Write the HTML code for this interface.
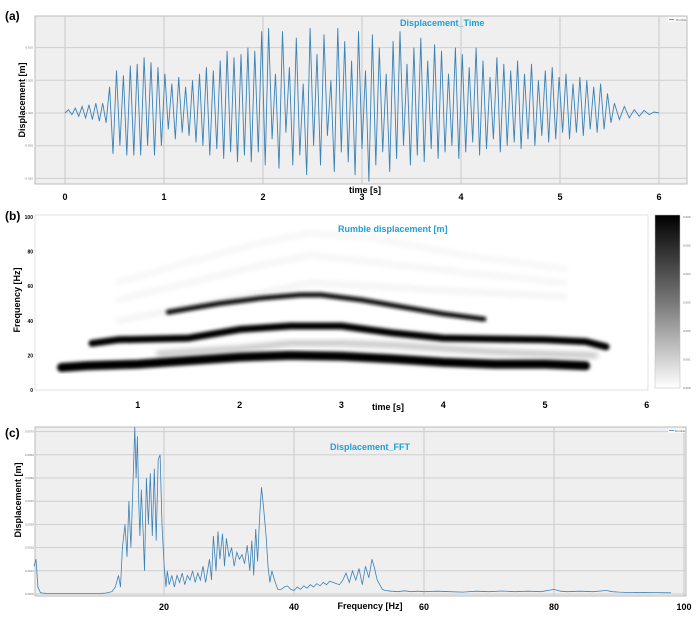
<!DOCTYPE html>
<html><head><meta charset="utf-8">
<style>
body{margin:0;background:#fff;width:700px;height:617px;overflow:hidden;font-family:"Liberation Sans",sans-serif;}
svg{position:absolute;left:0;top:0;}
</style></head>
<body>
<svg id="fig" width="700" height="617" viewBox="0 0 700 617">
<defs>
<filter id="blur" x="-10%" y="-50%" width="120%" height="200%"><feGaussianBlur stdDeviation="1.6"/></filter>
<filter id="blur2" x="-10%" y="-50%" width="120%" height="200%"><feGaussianBlur stdDeviation="3"/></filter>
<linearGradient id="cbar" x1="0" y1="0" x2="0" y2="1"><stop offset="0" stop-color="#000"/><stop offset="0.5" stop-color="#777"/><stop offset="1" stop-color="#fff"/></linearGradient>
</defs>
<g>
<rect x="35" y="16" width="652" height="168" fill="#efefef" stroke="#bbb"/>
<g id="gridA"></g>
<polyline id="lineA" fill="none" stroke="#3b82b6" stroke-width="0.9"/>
<text x="5" y="20" font-size="12" font-weight="bold">(a)</text>
<text x="0" y="0" transform="translate(25,100) rotate(-90)" text-anchor="middle" font-size="9" font-weight="bold">Displacement [m]</text>
<text x="400" y="26" font-size="9" font-weight="bold" fill="#1ea0d6">Displacement_Time</text>
<text x="365" y="193" text-anchor="middle" font-size="9" font-weight="bold">time [s]</text>
<rect x="668" y="17" width="18" height="5" fill="#f7f7f7"/>
<line x1="669" y1="19.5" x2="674" y2="19.5" stroke="#3b82b6" stroke-width="0.8"/>
<text x="676" y="21" font-size="3" fill="#666">Rumble</text>
</g>
<g>
<rect x="35" y="215" width="613" height="175" fill="#fff" stroke="#ccc" stroke-width="0.6"/>
<g id="spec"></g>
<rect x="655" y="215" width="25" height="173" fill="url(#cbar)" stroke="#bbb" stroke-width="0.5"/>
<g id="cbticks"></g>
<g id="axB"></g>
<text x="5" y="220" font-size="12" font-weight="bold">(b)</text>
<text x="0" y="0" transform="translate(20,300) rotate(-90)" text-anchor="middle" font-size="9" font-weight="bold">Frequency [Hz]</text>
<text x="338" y="232" font-size="9" font-weight="bold" fill="#1ea0d6">Rumble displacement [m]</text>
<text x="388" y="410" text-anchor="middle" font-size="9" font-weight="bold">time [s]</text>
</g>
<g>
<rect x="35" y="427" width="651" height="169" fill="#efefef" stroke="#bbb"/>
<g id="gridC"></g>
<polyline id="lineC" fill="none" stroke="#3b82b6" stroke-width="0.8"/>
<text x="5" y="437" font-size="12" font-weight="bold">(c)</text>
<text x="0" y="0" transform="translate(21,500) rotate(-90)" text-anchor="middle" font-size="9" font-weight="bold">Displacement [m]</text>
<text x="330" y="450" font-size="9" font-weight="bold" fill="#1ea0d6">Displacement_FFT</text>
<text x="370" y="609" text-anchor="middle" font-size="9" font-weight="bold">Frequency [Hz]</text>
<rect x="668" y="428" width="17" height="5" fill="#f7f7f7"/>
<line x1="669" y1="430.5" x2="674" y2="430.5" stroke="#3b82b6" stroke-width="0.8"/>
<text x="675" y="432" font-size="3" fill="#666">Rumble</text>
</g>
</svg>
<script>
const timeTicks=[0,1,2,3,4,5,6];
const dispTickLabels=["0.010","0.005","0.000","-0.005","-0.010"];
const dispTickValues=[2,1,0,-1,-2];
const preValues=[0,0.1,-0.05,0.15,-0.1,0.2,-0.15,0.25,-0.2,0.3,-0.25,0.3,-0.3];
const peakValues=[0.8,1.3,1.15,1.45,1.5,1.7,1.55,1.4,1.2,0.9,1.1,0.8,1.0,1.2,1.4,1.3,1.6,1.9,1.7,1.8,2.0,1.9,2.5,2.6,1.2,2.5,1.4,2.3,0.9,2.6,1.8,2.4,1.0,2.6,2.2,1.6,2.5,1.3,2.4,2.0,1.2,2.2,2.5,1.5,2.0,2.3,1.6,2.1,1.9,1.2,2.0,1.8,1.4,2.0,1.6,1.1,1.7,1.5,1.3,1.6,1.2,1.5,1.0,1.3,1.4,1.1,1.2,0.9,1.1,1.0,0.8,0.9,0.6];
const troughValues=[-1.25,-1.0,-1.3,-1.3,-1.3,-1.0,-1.3,-1.0,-0.5,-0.8,-0.6,-0.7,-0.9,-1.0,-1.3,-1.1,-1.4,-1.2,-1.5,-1.3,-1.5,-1.2,-1.6,-0.8,-1.7,-0.6,-1.6,-1.3,-1.9,-1.0,-1.6,-0.7,-1.8,-1.2,-1.5,-1.9,-1.1,-2.1,-1.6,-1.2,-1.8,-1.4,-1.0,-1.6,-1.3,-1.5,-1.1,-1.4,-1.2,-1.0,-1.4,-1.2,-0.9,-1.3,-1.1,-0.8,-1.2,-1.0,-0.9,-1.1,-0.8,-1.0,-0.7,-0.9,-0.8,-0.6,-0.8,-0.6,-0.7,-0.5,-0.6,-0.5,-0.3];
const tailValues=[0.3,-0.2,0.2,-0.15,0.1,-0.1,0.08,-0.05,0.03,0];
const segStart=[0,0.45,5.55], segEnd=[0.45,5.55,6.0];

const specTicksX=[1,2,3,4,5,6];
const specTicksY=[0,20,40,60,80,100];
const band1T=[0.25,0.5,1,1.5,2,2.5,3,3.5,4,4.5,5,5.4];
const band1F=[13,14,15,17,19,20,19.5,18,16,15,15,14];
const band2T=[0.55,0.8,1.5,2,2.5,3,3.5,4,4.5,5,5.4,5.6];
const band2F=[27,29,30,35,37,37,33,30,29.5,29,28,25];
const band3T=[1.2,2,2.5,3,3.5,4,4.5,5,5.5];
const band3F=[21,24,27,27,26,24,22,21,20];
const band4T=[1.3,1.8,2.2,2.6,2.8,3.2,3.6,4.0,4.4];
const band4F=[45,50,53,55,55,52,48,44,41];
const faintT=[0.8,1.5,2.2,2.7,3.3,4.2,5.2];
const faint1F=[40,48,56,62,60,57,54];
const faint2F=[52,62,72,78,74,68,62];
const faint3F=[62,74,85,91,88,78,70];

const fftTicks=[20,40,60,80,100];
const fftFreq=[0,0.3,0.6,1,2,4,6,8,10,11,12,12.5,13,13.3,13.6,14,14.3,14.6,14.9,15.2,15.5,15.7,15.9,16.1,16.3,16.5,16.8,17,17.3,17.6,17.9,18.2,18.5,18.8,19.1,19.4,19.7,20,20.3,20.5,20.8,21.2,21.6,22,22.4,22.8,23.2,23.6,24,24.4,24.8,25.2,25.6,26,26.4,27,27.3,27.6,28,28.3,28.6,29,29.3,29.6,30,30.4,30.8,31.2,31.6,32,32.4,32.8,33.2,33.5,33.8,34.1,34.4,34.7,35,35.3,35.7,36,36.3,36.6,37,37.5,38,38.5,39,39.5,40,40.5,41,41.5,42,42.5,43,43.5,44,44.5,45,45.5,46,46.5,47,47.5,48,48.5,49,49.5,50,50.5,51,51.5,52,52.4,52.8,53.2,53.6,54,55,56,57,58,59,60,62,64,66,68,70,72,74,76,78,80,81,82,84,86,88,89,90,92,94,96,98,100];
const fftAmp=[1.2,1.5,0.3,0.05,0.02,0.02,0.02,0.02,0.02,0.04,0.1,0.3,0.8,0.3,2,3,1.6,4,2,4.5,7.2,5,6.8,4,2.5,4.5,2.6,1,5,3,5.2,2.5,5.4,2.3,5.8,6,3,1.3,0.3,1,0.4,0.8,0.3,0.8,0.5,0.9,0.4,0.8,0.6,1.0,0.5,0.9,0.6,1.2,0.5,1.5,0.6,2.5,1,2.7,1.5,2.6,1.2,2.4,1.6,2,1.2,1.8,1.5,1.7,1.3,2.1,1.0,2.3,0.8,2.8,1.4,3.3,4.6,3.8,2.5,1.2,0.5,1,0.6,0.2,0.2,0.3,0.35,0.2,0.15,0.3,0.2,0.35,0.25,0.4,0.3,0.45,0.35,0.5,0.4,0.55,0.5,0.45,0.4,0.6,0.9,0.5,1.0,0.6,1.1,0.4,1.2,0.7,1.5,1.1,0.6,0.4,0.2,0.15,0.12,0.1,0.14,0.1,0.12,0.1,0.12,0.1,0.08,0.12,0.1,0.13,0.1,0.12,0.1,0.2,0.12,0.1,0.12,0.1,0.15,0.1,0.08,0.06,0.07,0.06,0.05];
const fftTickLabels=["0.0070","0.0060","0.0050","0.0040","0.0030","0.0020","0.0010","0.0000"];

const NS='http://www.w3.org/2000/svg';
function mk(tag,attrs,parent,txt){const e=document.createElementNS(NS,tag);for(const k in attrs)e.setAttribute(k,attrs[k]);if(txt!==undefined)e.textContent=txt;parent.appendChild(e);return e;}

const xA=t=>65+t*99, yA=v=>113-v*32.7;
const gA=document.getElementById('gridA');
timeTicks.forEach(t=>{
  const l=mk('line',{x1:xA(t),x2:xA(t),y1:16,y2:184,stroke:'#c8c8c8','stroke-width':1},gA);
  
  
  const tx=mk('text',{x:xA(t),y:200,'text-anchor':'middle','font-size':9,'font-weight':'bold'},gA,String(t));
  
  
});
dispTickValues.forEach((v,i)=>{
  const l=mk('line',{x1:35,x2:687,y1:yA(v),y2:yA(v),stroke:'#cfcfcf','stroke-width':1},gA);
  
  
  const tx=mk('text',{x:33,y:yA(v)+1,'text-anchor':'end','font-size':3,fill:'#777'},gA,dispTickLabels[i]);
  
  
});
const pts=[];
function addSeg(vals,t0,t1){const n=vals.length;vals.forEach((v,i)=>pts.push([t0+(t1-t0)*i/n,v]));}
addSeg(preValues,segStart[0],segEnd[0]);
const mid=[];peakValues.forEach((p,i)=>{mid.push(p);if(i<troughValues.length)mid.push(troughValues[i]);});
addSeg(mid,segStart[1],segEnd[1]);
addSeg(tailValues,segStart[2],segEnd[2]+0.05);
document.getElementById('lineA').setAttribute('points',pts.map(p=>xA(p[0]).toFixed(1)+','+yA(p[1]).toFixed(1)).join(' '));

const xB=t=>36+t*101.8, yB=f=>390-f*1.73;
const sp=document.getElementById('spec');
function band(T,F,w,col,filt,name){
  const p=mk('polyline',{points:T.map((t,i)=>xB(t).toFixed(1)+','+yB(F[i]).toFixed(1)).join(' '),fill:'none',stroke:col,'stroke-width':w,'stroke-linecap':'round','stroke-linejoin':'round',filter:'url(#'+filt+')'},sp);
  
  
}
band(faintT,faint3F,3,'#efefef','blur2','faint-band-3');
band(faintT,faint2F,3,'#ececec','blur2','faint-band-2');
band(faintT,faint1F,3,'#e8e8e8','blur2','faint-band-1');
band(band3T,band3F,4,'#aaa','blur2','band-3');
band(band4T,band4F,5,'#111','blur','band-4');
band(band2T,band2F,7,'#000','blur','band-2');
band(band1T,band1F,9,'#000','blur','band-1');
const base=mk('line',{x1:36,x2:648,y1:yB(1.5),y2:yB(1.5),stroke:'#ccc','stroke-width':2,filter:'url(#blur)'},sp);


const aB=document.getElementById('axB');
specTicksX.forEach(t=>{
  const tx=mk('text',{x:xB(t),y:408,'text-anchor':'middle','font-size':9,'font-weight':'bold'},aB,String(t));
  
  
});
specTicksY.forEach(f=>{
  const tx=mk('text',{x:33,y:yB(f)+2,'text-anchor':'end','font-size':5,'font-weight':'bold'},aB,String(f));
  
  
});
const cb=document.getElementById('cbticks');
[0,1,2,3,4,5,6].forEach(i=>{
  const tx=mk('text',{x:683,y:218+i*28.5,'font-size':3,fill:'#666'},cb,'0.00'+(6-i));
  
  
});

const xC=f=>34+f*6.5, yC=v=>594-v*23.2;
const gC=document.getElementById('gridC');
fftTicks.forEach(f=>{
  const l=mk('line',{x1:xC(f),x2:xC(f),y1:427,y2:596,stroke:'#c8c8c8','stroke-width':1},gC);
  
  
  const tx=mk('text',{x:xC(f),y:610,'text-anchor':'middle','font-size':9,'font-weight':'bold'},gC,String(f));
  
  
});
fftTickLabels.forEach((lb,i)=>{
  const v=7-i;
  const l=mk('line',{x1:35,x2:686,y1:yC(v),y2:yC(v),stroke:'#cfcfcf','stroke-width':1},gC);
  
  
  const tx=mk('text',{x:34,y:yC(v)+1,'text-anchor':'end','font-size':3,fill:'#777'},gC,lb);
  
  
});
document.getElementById('lineC').setAttribute('points',fftFreq.map((f,i)=>xC(f).toFixed(1)+','+yC(fftAmp[i]).toFixed(1)).join(' '));
</script>
</body></html>
